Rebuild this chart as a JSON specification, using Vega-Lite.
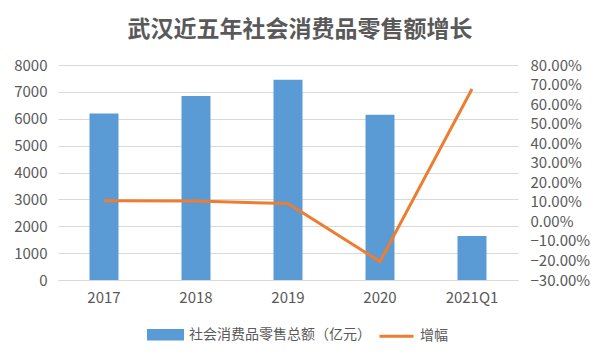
{
  "$schema": "https://vega.github.io/schema/vega-lite/v6.json",
  "width": 460,
  "height": 215,
  "autosize": "none",
  "padding": {"left": 58, "top": 65, "right": 82, "bottom": 80},
  "background": "white",
  "config": {
    "font": "Noto Sans CJK SC",
    "view": {"stroke": null},
    "axis": {"labelColor": "#595959", "labelFontSize": 15, "titleColor": "#595959"}
  },
  "title": {
    "text": "武汉近五年社会消费品零售额增长",
    "fontSize": 23,
    "fontWeight": "bold",
    "color": "#595959",
    "anchor": "middle",
    "frame": "group",
    "dx": 12,
    "offset": 16
  },
  "data": {
    "values": [
      {"year": "2017", "sales": 6196, "growth": 0.105},
      {"year": "2018", "sales": 6843, "growth": 0.104},
      {"year": "2019", "sales": 7449, "growth": 0.091},
      {"year": "2020", "sales": 6150, "growth": -0.206},
      {"year": "2021Q1", "sales": 1640, "growth": 0.677}
    ]
  },
  "encoding": {
    "x": {
      "field": "year",
      "type": "nominal",
      "sort": null,
      "scale": {"paddingInner": 0.685, "paddingOuter": 0.3425},
      "axis": {"title": null, "labelAngle": 0, "ticks": false, "domainColor": "#D9D9D9", "labelPadding": 10}
    }
  },
  "layer": [
    {
      "mark": {"type": "bar", "fill": "#5B9BD5"},
      "encoding": {
        "y": {
          "field": "sales",
          "type": "quantitative",
          "scale": {"domain": [0, 8000], "nice": false},
          "axis": {
            "title": null,
            "values": [0, 1000, 2000, 3000, 4000, 5000, 6000, 7000, 8000],
            "format": "d",
            "grid": true,
            "gridColor": "#D9D9D9",
            "domain": false,
            "ticks": false,
            "labelPadding": 11
          }
        },
        "color": {
          "datum": "社会消费品零售总额（亿元）",
          "scale": {"domain": ["社会消费品零售总额（亿元）", "增幅"], "range": ["#5B9BD5", "#ED7D31"]},
          "legend": {
            "title": null,
            "orient": "none",
            "legendX": 89,
            "legendY": 251,
            "direction": "horizontal",
            "labelFontSize": 14,
            "labelColor": "#595959",
            "labelLimit": 400,
            "symbolSize": 1156,
            "labelOffset": 5,
            "columnPadding": 2,
            "encode": {
              "symbols": {
                "update": {
                  "shape": {"signal": "datum.value === '增幅' ? 'stroke' : 'M-1,-0.25H1V0.25H-1Z'"},
                  "fill": {"signal": "datum.value === '增幅' ? 'transparent' : '#5B9BD5'"},
                  "stroke": {"signal": "datum.value === '增幅' ? '#ED7D31' : 'transparent'"},
                  "strokeWidth": {"value": 3},
                  "opacity": {"value": 1}
                }
              }
            }
          }
        }
      }
    },
    {
      "mark": {"type": "line", "stroke": "#ED7D31", "strokeWidth": 3},
      "encoding": {
        "y": {
          "field": "growth",
          "type": "quantitative",
          "scale": {"domain": [-0.3, 0.8], "nice": false, "zero": false},
          "axis": {
            "title": null,
            "orient": "right",
            "values": [-0.3, -0.2, -0.1, 0, 0.1, 0.2, 0.3, 0.4, 0.5, 0.6, 0.7, 0.8],
            "format": ".2%",
            "grid": false,
            "domain": false,
            "ticks": false,
            "labelPadding": 12
          }
        },
        "color": {"datum": "增幅"}
      }
    }
  ],
  "resolve": {"scale": {"y": "independent"}}
}
